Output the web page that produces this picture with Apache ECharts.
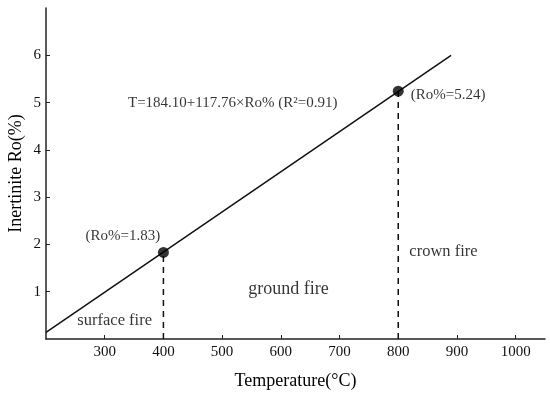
<!DOCTYPE html>
<html>
<head>
<meta charset="utf-8">
<script src="https://cdn.jsdelivr.net/npm/echarts@6/dist/echarts.min.js"></script>
<style>html,body{margin:0;padding:0;background:#fff}#c{width:550px;height:395px}</style>
</head>
<body>
<div id="c"></div>
<script>
// Data
const fitTemps = [200, 890];
const fitRo = [0.14, 6.0];
const pointTemps = [400, 800];
const pointRo = [1.83, 5.24];
const xTicks = [300, 400, 500, 600, 700, 800, 900, 1000];
const yTicks = [1, 2, 3, 4, 5, 6];
const equationText = 'T=184.10+117.76×Ro% (R²=0.91)';
const pointLabels = ['(Ro%=1.83)', '(Ro%=5.24)'];
const zoneLabels = ['surface fire', 'ground fire', 'crown fire'];

const FONT = '"Liberation Serif", "Times New Roman", serif';
const chart = echarts.init(document.getElementById('c'));

function textItem(x, y, text, size) {
  return { value: [x, y], name: text, label: { fontSize: size } };
}

const option = {
  animation: false,
  backgroundColor: '#fff',
  grid: { left: 46, right: 5, top: 8, bottom: 56, containLabel: false, outerBoundsMode: 'none' },
  xAxis: {
    type: 'value', min: 200, max: 1050, interval: 100,
    name: 'Temperature(°C)', nameLocation: 'middle', nameGap: 33, nameMoveOverlap: false,
    nameTextStyle: { fontFamily: FONT, fontSize: 18, color: '#000' },
    axisLine: { show: true, onZero: false, lineStyle: { color: '#222', width: 1.5 } },
    axisTick: { show: true, inside: true, length: 4, customValues: xTicks, lineStyle: { color: '#222' } },
    axisLabel: { customValues: xTicks, formatter: v => String(v), fontFamily: FONT, fontSize: 15, color: '#111', margin: 6 },
    splitLine: { show: false }
  },
  yAxis: {
    type: 'value', min: 0, max: 7, interval: 1,
    name: 'Inertinite Ro(%)', nameLocation: 'middle', nameGap: 21, nameMoveOverlap: false,
    nameTextStyle: { fontFamily: FONT, fontSize: 18, color: '#000' },
    axisLine: { show: true, onZero: false, lineStyle: { color: '#222', width: 1.5 } },
    axisTick: { show: true, inside: true, length: 4, customValues: yTicks, lineStyle: { color: '#222' } },
    axisLabel: { customValues: yTicks, formatter: v => String(v), fontFamily: FONT, fontSize: 15, color: '#111', margin: 5 },
    splitLine: { show: false }
  },
  series: [
    {
      type: 'line', data: fitTemps.map((t, i) => [t, fitRo[i]]),
      symbol: 'none', lineStyle: { color: '#111', width: 1.5 }, z: 3
    },
    {
      type: 'line', data: [[pointTemps[0], 0], [pointTemps[0], pointRo[0]]],
      symbol: 'none', lineStyle: { color: '#111', width: 1.5, type: [6, 5] }
    },
    {
      type: 'line', data: [[pointTemps[1], 0], [pointTemps[1], pointRo[1]]],
      symbol: 'none', lineStyle: { color: '#111', width: 1.5, type: [6, 5] }
    },
    {
      type: 'scatter', data: pointTemps.map((t, i) => [t, pointRo[i]]),
      symbolSize: 11, itemStyle: { color: '#000' }, z: 5
    },
    {
      type: 'scatter', symbolSize: 0, silent: true,
      label: {
        show: true, position: 'inside', formatter: p => p.name,
        fontFamily: FONT, color: '#000'
      },
      data: [
        textItem(518, 4.99, equationText, 15),
        textItem(331, 2.17, pointLabels[0], 15),
        textItem(885, 5.16, pointLabels[1], 15),
        textItem(317, 0.39, zoneLabels[0], 16.5),
        textItem(613, 1.06, zoneLabels[1], 18),
        textItem(877, 1.85, zoneLabels[2], 16.5)
      ]
    }
  ]
};
chart.setOption(option);
</script>
</body>
</html>
